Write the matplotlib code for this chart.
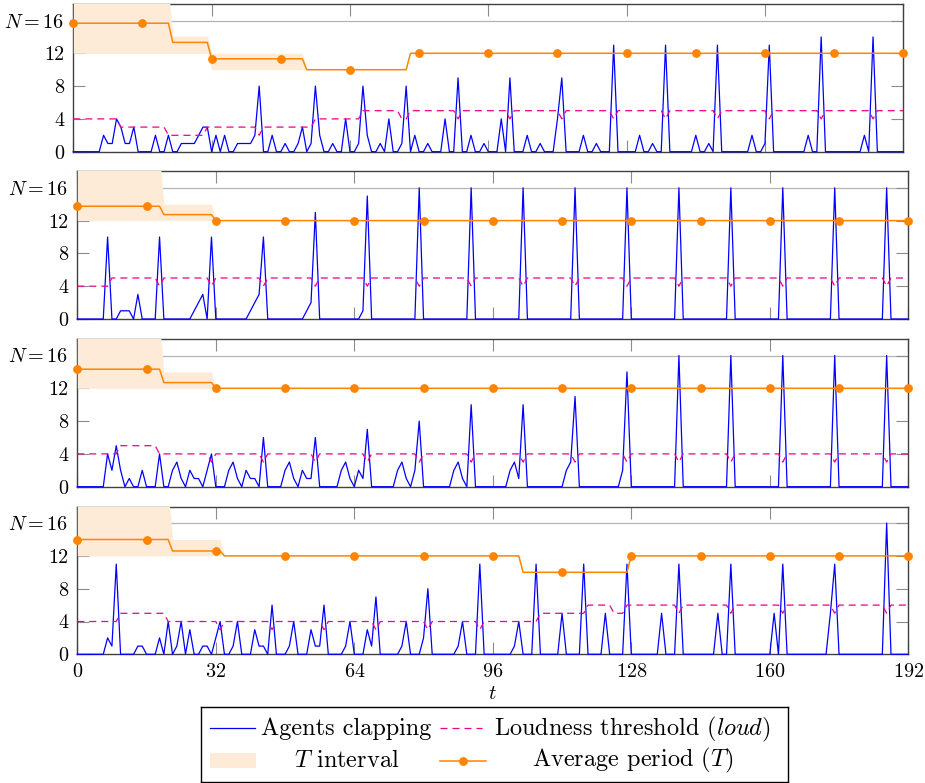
import matplotlib
matplotlib.use('Agg')
import matplotlib.pyplot as plt
from matplotlib.patches import Rectangle

plt.rcParams['font.family'] = 'serif'
plt.rcParams['font.serif'] = ['cmr10']
plt.rcParams['mathtext.fontset'] = 'cm'
plt.rcParams['axes.unicode_minus'] = False
plt.rcParams['axes.formatter.use_mathtext'] = True

t = list(range(193))

# agents clapping at each time step, one list per run
clap1 = [0,0,0,0,0,0,0,2,1,1,4,3,1,1,3,0,
         0,0,0,2,0,0,2,0,0,1,1,1,1,2,3,3,
         0,2,0,2,0,0,1,1,1,1,2,8,0,0,2,0,
         0,1,0,0,1,3,0,1,8,2,0,0,1,0,0,4,
         0,0,1,8,2,0,0,1,0,4,0,0,1,8,0,2,
         0,0,1,0,0,0,4,0,0,9,0,0,2,0,0,1,
         0,0,0,4,0,9,0,0,0,2,0,0,1,0,0,0,
         4,9,0,0,0,0,2,0,0,1,0,0,0,13,0,0,
         0,0,0,2,0,0,1,0,0,13,0,0,0,0,0,0,
         2,0,0,1,0,13,0,0,0,0,0,0,0,2,0,0,
         1,13,0,0,0,0,0,0,0,0,2,0,0,14,0,0,
         0,0,0,0,0,0,0,2,0,14,0,0,0,0,0,0,
         0]
clap2 = [0,0,0,0,0,0,0,10,0,0,1,1,1,0,3,0,
         0,0,0,10,0,0,0,0,0,0,0,1,2,3,0,10,
         0,0,0,0,0,0,0,0,1,2,3,10,0,0,0,0,
         0,0,0,0,0,1,2,13,0,0,0,0,0,0,0,0,
         0,0,1,15,0,0,0,0,0,0,0,0,0,0,0,16,
         0,0,0,0,0,0,0,0,0,0,0,16,0,0,0,0,
         0,0,0,0,0,0,0,16,0,0,0,0,0,0,0,0,
         0,0,0,16,0,0,0,0,0,0,0,0,0,0,0,16,
         0,0,0,0,0,0,0,0,0,0,0,16,0,0,0,0,
         0,0,0,0,0,0,0,16,0,0,0,0,0,0,0,0,
         0,0,0,16,0,0,0,0,0,0,0,0,0,0,0,16,
         0,0,0,0,0,0,0,0,0,0,0,16,0,0,0,0,
         0]
clap3 = [0,0,0,0,0,0,0,4,2,5,2,0,1,0,0,2,
         0,0,0,4,0,0,2,3,1,0,2,1,1,0,2,4,
         0,0,0,2,3,1,0,2,1,1,0,6,0,0,0,0,
         2,3,1,0,2,1,1,6,0,0,0,0,0,2,3,1,
         0,2,1,7,0,0,0,0,0,0,2,3,1,0,2,8,
         0,0,0,0,0,0,0,2,3,1,0,10,0,0,0,0,
         0,0,0,0,2,3,1,10,0,0,0,0,0,0,0,0,
         0,2,3,11,0,0,0,0,0,0,0,0,0,0,2,14,
         0,0,0,0,0,0,0,0,0,0,0,16,0,0,0,0,
         0,0,0,0,0,0,0,16,0,0,0,0,0,0,0,0,
         0,0,0,16,0,0,0,0,0,0,0,0,0,0,0,16,
         0,0,0,0,0,0,0,0,0,0,0,16,0,0,0,0,
         0]
clap4 = [0,0,0,0,0,0,0,2,1,11,0,0,0,0,1,1,
         0,0,0,2,0,4,0,1,4,0,3,0,0,1,1,0,
         2,4,0,0,1,4,0,0,0,3,1,1,0,6,0,0,
         0,1,4,0,0,0,3,1,1,6,0,0,0,0,1,4,
         0,0,0,3,1,7,0,0,0,0,0,1,4,0,0,0,
         2,8,0,0,0,0,0,0,1,4,0,0,0,11,0,0,
         0,0,0,0,0,1,4,0,0,0,11,0,0,0,0,0,
         5,0,0,0,0,11,0,0,0,0,5,0,0,0,0,11,
         0,0,0,0,0,0,0,5,0,0,0,11,0,0,0,0,
         0,0,0,0,5,0,0,11,0,0,0,0,0,0,0,0,
         0,5,0,11,0,0,0,0,0,0,0,0,0,0,5,11,
         0,0,0,0,0,0,0,0,0,0,0,16,0,0,0,0,
         0]

# loudness threshold at each time step
loud1 = [4,4,4,4,4,4,4,4,4,4,4,3,3,3,3,3,
         3,3,3,3,3,3,2,2,2,2,2,2,2,2,2,3,
         3,3,3,3,3,3,3,3,3,3,3,2,3,3,3,3,
         3,3,3,3,3,3,3,3,4,4,4,4,4,4,4,4,
         4,4,4,5,5,5,5,5,5,5,5,5,4,4,5,5,
         5,5,5,5,5,5,5,5,5,4,5,5,5,5,5,5,
         5,5,5,5,5,4,5,5,5,5,5,5,5,5,5,5,
         5,4,5,5,5,5,5,5,5,5,5,5,5,4,5,5,
         5,5,5,5,5,5,5,5,5,4,5,5,5,5,5,5,
         5,5,5,5,5,4,5,5,5,5,5,5,5,5,5,5,
         5,4,5,5,5,5,5,5,5,5,5,5,5,4,5,5,
         5,5,5,5,5,5,5,5,5,4,5,5,5,5,5,5,
         5]
loud2 = [4,4,4,4,4,4,4,4,5,5,5,5,5,5,5,5,
         5,5,5,4,5,5,5,5,5,5,5,5,5,5,5,4,
         5,5,5,5,5,5,5,5,5,5,5,4,5,5,5,5,
         5,5,5,5,5,5,5,4,5,5,5,5,5,5,5,5,
         5,5,5,4,5,5,5,5,5,5,5,5,5,5,5,4,
         5,5,5,5,5,5,5,5,5,5,5,4,5,5,5,5,
         5,5,5,5,5,5,5,4,5,5,5,5,5,5,5,5,
         5,5,5,4,5,5,5,5,5,5,5,5,5,5,5,4,
         5,5,5,5,5,5,5,5,5,5,5,4,5,5,5,5,
         5,5,5,5,5,5,5,4,5,5,5,5,5,5,5,5,
         5,5,5,4,5,5,5,5,5,5,5,5,5,5,5,4,
         5,5,5,5,5,5,5,5,5,5,5,4,5,5,5,5,
         5]
loud3 = [4,4,4,4,4,4,4,4,4,4,5,5,5,5,5,5,
         5,5,5,4,4,4,4,4,4,4,4,4,4,4,4,3,
         4,4,4,4,4,4,4,4,4,4,4,3,4,4,4,4,
         4,4,4,4,4,4,4,3,4,4,4,4,4,4,4,4,
         4,4,4,3,4,4,4,4,4,4,4,4,4,4,4,3,
         4,4,4,4,4,4,4,4,4,4,4,3,4,4,4,4,
         4,4,4,4,4,4,4,3,4,4,4,4,4,4,4,4,
         4,4,4,3,4,4,4,4,4,4,4,4,4,4,4,3,
         4,4,4,4,4,4,4,4,4,4,4,3,4,4,4,4,
         4,4,4,4,4,4,4,3,4,4,4,4,4,4,4,4,
         4,4,4,3,4,4,4,4,4,4,4,4,4,4,4,3,
         4,4,4,4,4,4,4,4,4,4,4,3,4,4,4,4,
         4]
loud4 = [4,4,4,4,4,4,4,4,4,4,5,5,5,5,5,5,
         5,5,5,5,5,4,4,4,4,4,4,4,4,4,4,4,
         4,3,4,4,4,4,4,4,4,4,4,4,4,3,4,4,
         4,4,4,4,4,4,4,4,4,3,4,4,4,4,4,4,
         4,4,4,4,4,3,4,4,4,4,4,4,4,4,4,4,
         4,3,4,4,4,4,4,4,4,4,4,4,4,3,4,4,
         4,4,4,4,4,4,4,4,4,4,4,5,5,5,5,5,
         5,5,5,5,5,5,6,6,6,6,6,6,5,5,5,6,
         6,6,6,6,6,6,6,6,6,6,6,5,6,6,6,6,
         6,6,6,6,6,6,6,5,6,6,6,6,6,6,6,6,
         6,6,6,5,6,6,6,6,6,6,6,6,6,6,6,5,
         6,6,6,6,6,6,6,6,6,6,6,5,6,6,6,6,
         6]

# average period and its interval, as (last step, value) runs
period1 = [(22, 15.67), (31, 13.33), (53, 11.33), (77, 10), (192, 12)]
low1 = [(31, 12), (53, 10), (77, 10), (192, 12)]
high1 = [(22, 20), (31, 14.1), (53, 12), (77, 10), (192, 12)]
period2 = [(19, 13.75), (31, 12.73), (192, 12)]
low2 = [(192, 12)]
high2 = [(19, 20), (31, 14), (192, 12)]
period3 = [(19, 14.33), (31, 12.7), (192, 12)]
low3 = [(192, 12)]
high3 = [(19, 20), (31, 14), (192, 12)]
period4 = [(21, 14), (33, 12.6), (102, 12), (127, 10), (192, 12)]
low4 = [(102, 12), (127, 10), (192, 12)]
high4 = [(21, 20), (33, 14), (102, 12), (127, 10), (192, 12)]

legend_labels = ['Agents clapping', 'Loudness threshold ($loud$)',
                 '$T$ interval', 'Average period ($T$)']


def expand(runs):
    out = []
    for last, v in runs:
        while len(out) <= last:
            out.append(v)
    return out


blue = '#0000ff'
pink = '#ec008c'
orange = '#ff8400'
shade = '#fdebd8'
dash = (5.6, 4)

fig = plt.figure(figsize=(9.25, 7.83), dpi=100)
W, H = 925.0, 783.0
boxes = [(73.3, 151.7, 830), (77.3, 319.0, 831), (77.3, 486.7, 831), (77.3, 654.3, 831)]
runs = [(clap1, loud1, period1, low1, high1), (clap2, loud2, period2, low2, high2),
        (clap3, loud3, period3, low3, high3), (clap4, loud4, period4, low4, high4)]

axes = []
for (x0, y0, w), (c, l, p, lo, hi) in zip(boxes, runs):
    ax = fig.add_axes([x0 / W, (H - y0) / H, w / W, 147.6 / H])
    ax.axhline(16, color='#b4b4b4', lw=0.9, zorder=0.5)
    ax.fill_between(t, expand(lo), expand(hi), color=shade, lw=0, zorder=2.6)
    ax.plot(t, c, color=blue, lw=0.9, zorder=3, clip_on=False)
    ax.plot(t, l, color=pink, lw=0.9, dashes=dash, zorder=3.1)
    ax.plot(t, expand(p), color=orange, lw=1.1, marker='o', ms=5.3,
            markevery=16, zorder=4, clip_on=False)
    ax.set_xlim(0, 192)
    ax.set_ylim(0, 18)
    ax.set_xticks(range(0, 193, 32))
    ax.set_yticks([0, 4, 8, 12, 16])
    ax.set_yticklabels(['0', '4', '8', '12', '$N=16$'])
    ax.tick_params(direction='in', length=8.5, width=0.8, color='#8c8c8c',
                   top=True, right=True, labelsize=14.5, pad=6.5)
    for sp in ax.spines.values():
        sp.set_color('#404040')
        sp.set_linewidth(1.0)
    axes.append(ax)

for ax in axes[:-1]:
    ax.set_xticklabels([])
axes[-1].set_xlabel('$t$', fontsize=15, labelpad=3)

# legend box, laid out like the pgfplots one (cells centred)
lax = fig.add_axes([201 / W, (H - 782) / H, 587 / W, 75 / H])
lax.set_xlim(0, 587)
lax.set_ylim(75, 0)
lax.set_xticks([])
lax.set_yticks([])
for sp in lax.spines.values():
    sp.set_color('black')
    sp.set_linewidth(1.0)
lax.plot([9, 54], [21.3, 21.3], color=blue, lw=0.9)
lax.plot([239, 281], [21.3, 21.3], color=pink, lw=0.9, dashes=dash)
lax.add_patch(Rectangle((9, 45.7), 46, 15.6, color=shade, lw=0))
lax.plot([239, 262, 285], [53.7, 53.7, 53.7], color=orange, lw=1.1,
         marker='o', ms=5.3, markevery=[1])
cells = [(145.5, 28), (431.5, 28), (145.5, 59.7), (431.5, 59.7)]
for (cx, cy), lab in zip(cells, legend_labels):
    lax.text(cx, cy, lab, ha='center', va='baseline', fontsize=17.5)

fig.savefig('out.png', dpi=100)
